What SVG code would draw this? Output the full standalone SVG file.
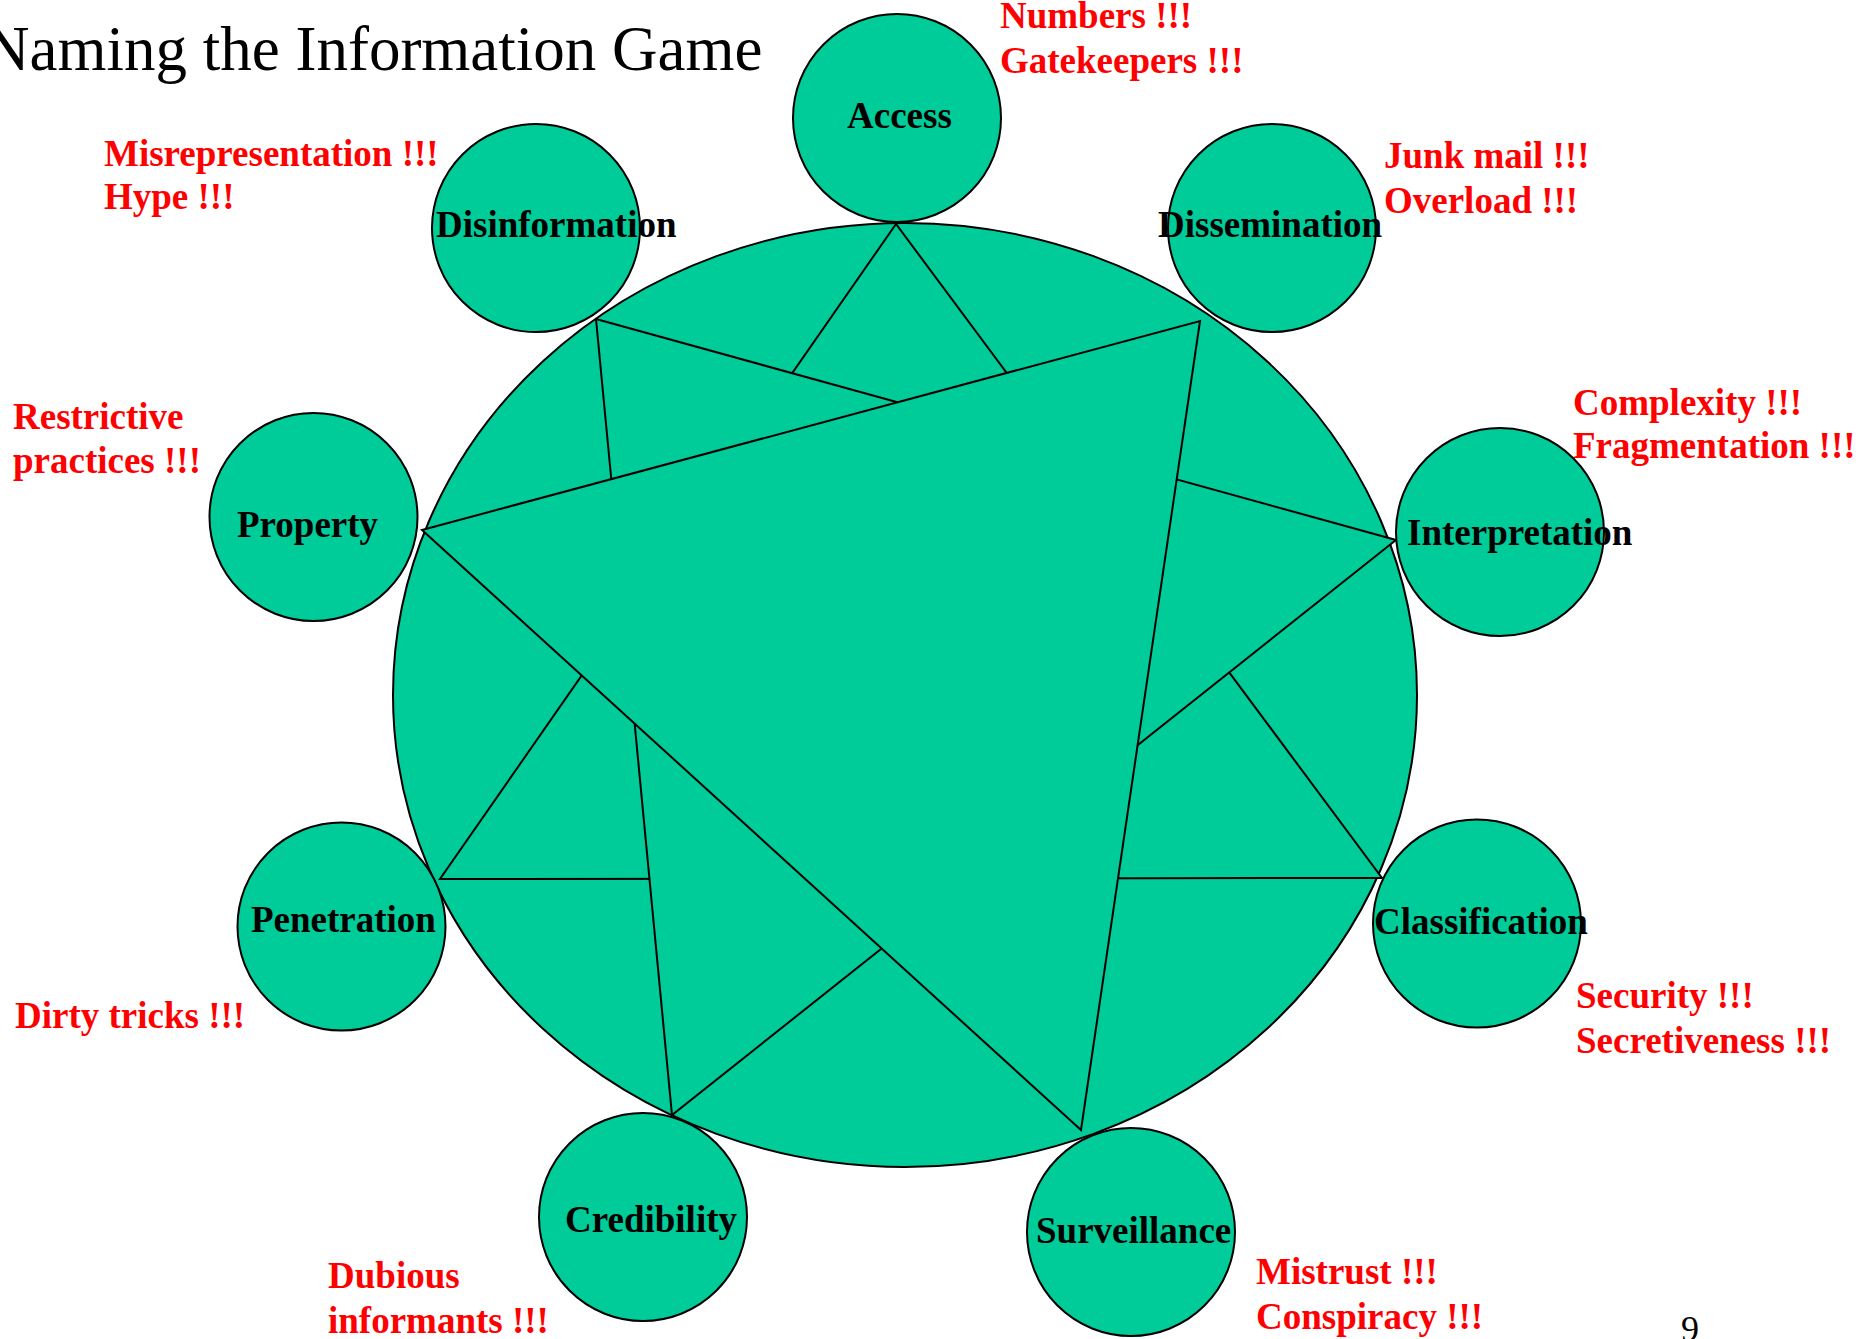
<svg xmlns="http://www.w3.org/2000/svg" width="1858" height="1339" viewBox="0 0 1858 1339">
<style>
.shape{fill:#00CC99;stroke:#000;stroke-width:2}
.lbl{font-family:"Liberation Serif","Times New Roman",serif;font-weight:bold;font-size:37px;fill:#000}
.note{font-family:"Liberation Serif","Times New Roman",serif;font-weight:bold;font-size:37px;fill:#FF0000}
.title{font-family:"Liberation Serif","Times New Roman",serif;font-size:63px;fill:#000}
</style>
<rect width="1858" height="1339" fill="#fff"/>
<text class="title" x="-16" y="70">Naming the Information Game</text>
<g id="hub">
<ellipse class="shape" cx="905" cy="695" rx="512" ry="472"/>
</g>
<g id="connectors">
<polygon class="shape" points="896,224 440,879 1382,878"/>
<polygon class="shape" points="596,319 1396,540 672,1115"/>
<polygon class="shape" points="422,530 1200,321 1081,1130"/>
</g>
<g id="access">
<circle class="shape" cx="897" cy="118" r="104"/>
<text class="lbl" x="847" y="128">Access</text>
<text class="note" x="1000" y="28">Numbers !!!</text>
<text class="note" x="1000" y="73">Gatekeepers !!!</text>
</g>
<g id="disinformation">
<circle class="shape" cx="536" cy="228" r="104"/>
<text class="lbl" x="436" y="237">Disinformation</text>
<text class="note" x="104" y="166">Misrepresentation !!!</text>
<text class="note" x="104" y="209">Hype !!!</text>
</g>
<g id="dissemination">
<circle class="shape" cx="1272" cy="228" r="104"/>
<text class="lbl" x="1158" y="237">Dissemination</text>
<text class="note" x="1384" y="168">Junk mail !!!</text>
<text class="note" x="1384" y="213">Overload !!!</text>
</g>
<g id="property">
<circle class="shape" cx="313.5" cy="517" r="104"/>
<text class="lbl" x="237" y="537">Property</text>
<text class="note" x="13" y="429">Restrictive</text>
<text class="note" x="13" y="473">practices !!!</text>
</g>
<g id="interpretation">
<circle class="shape" cx="1500" cy="532" r="104"/>
<text class="lbl" x="1407" y="545">Interpretation</text>
<text class="note" x="1573" y="415">Complexity !!!</text>
<text class="note" x="1573" y="458">Fragmentation !!!</text>
</g>
<g id="penetration">
<circle class="shape" cx="341.5" cy="926.5" r="104"/>
<text class="lbl" x="251" y="932">Penetration</text>
<text class="note" x="15" y="1028">Dirty tricks !!!</text>
</g>
<g id="classification">
<circle class="shape" cx="1477" cy="923.5" r="104"/>
<text class="lbl" x="1374" y="934">Classification</text>
<text class="note" x="1576" y="1008">Security !!!</text>
<text class="note" x="1576" y="1053">Secretiveness !!!</text>
</g>
<g id="credibility">
<circle class="shape" cx="643" cy="1217" r="104"/>
<text class="lbl" x="565" y="1232">Credibility</text>
<text class="note" x="328" y="1288">Dubious</text>
<text class="note" x="328" y="1333">informants !!!</text>
</g>
<g id="surveillance">
<circle class="shape" cx="1131" cy="1232" r="104"/>
<text class="lbl" x="1036" y="1243">Surveillance</text>
<text class="note" x="1256" y="1284">Mistrust !!!</text>
<text class="note" x="1256" y="1329">Conspiracy !!!</text>
</g>
<text x="1681" y="1341" style="font-family:'Liberation Serif','Times New Roman',serif;font-size:36px;fill:#000">9</text>
</svg>
